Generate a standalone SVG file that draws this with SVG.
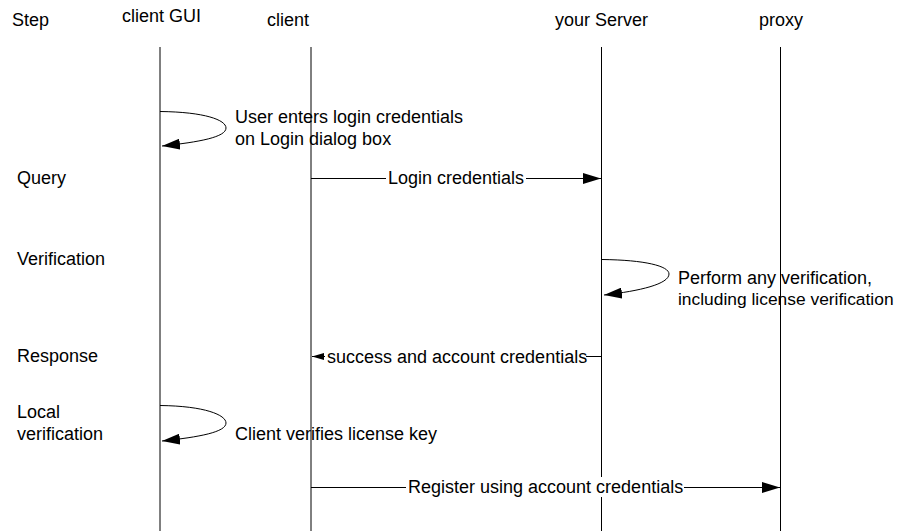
<svg xmlns="http://www.w3.org/2000/svg" width="899" height="531" viewBox="0 0 899 531">
<style>
text{font-family:"Liberation Sans",Arial,sans-serif;font-size:18px;fill:#000}
.life{stroke:#000;stroke-width:1;fill:none}
.msg{stroke:#000;stroke-width:1;fill:none}
.bg{fill:#fff}
</style>
<defs>
<marker id="ah" viewBox="0 0 18 11" refX="18" refY="5.5" markerWidth="18" markerHeight="11" markerUnits="userSpaceOnUse" orient="auto">
<path d="M0,0 L18,5.5 L0,11 Z" fill="#000"/>
</marker>
<marker id="ahs" viewBox="0 0 12 7" refX="12" refY="3.5" markerWidth="12" markerHeight="7" markerUnits="userSpaceOnUse" orient="auto">
<path d="M0,0 L12,3.5 L0,7 Z" fill="#000"/>
</marker>
</defs>
<rect width="899" height="531" fill="#fff"/>
<g id="steps">
<text x="12" y="26">Step</text>
<text x="17" y="184">Query</text>
<text x="17" y="265">Verification</text>
<text x="17" y="362">Response</text>
<text x="17" y="418">Local</text>
<text x="17" y="440">verification</text>
</g>
<g id="clientGUI">
<text x="122" y="22">client GUI</text>
<line class="life" x1="160" y1="47" x2="160" y2="531"/>
</g>
<g id="client">
<text x="267" y="26">client</text>
<line class="life" x1="311" y1="47" x2="311" y2="531"/>
</g>
<g id="server">
<text x="555" y="26">your Server</text>
<line class="life" x1="601.5" y1="47" x2="601.5" y2="531"/>
</g>
<g id="proxy">
<text x="759" y="26">proxy</text>
<line class="life" x1="780.5" y1="47" x2="780.5" y2="531"/>
</g>
<g id="connectors">
<path class="msg" d="M160,111.5 C205,112 226,120 226,128 C226,137 200,142 162,146" marker-end="url(#ah)"/>
<text x="235" y="123">User enters login credentials</text>
<text x="235" y="145">on Login dialog box</text>

<line class="msg" x1="311" y1="178.5" x2="601" y2="178.5" marker-end="url(#ah)"/>
<rect class="bg" x="386" y="168" width="140" height="20"/>
<text x="388" y="184">Login credentials</text>

<path class="msg" d="M602,259.5 C645,260 669,266 669,274 C669,284 640,291 604,295" marker-end="url(#ah)"/>
<text x="678" y="284">Perform any verification,</text>
<text x="678" y="305" style="font-size:17.4px">including license verification</text>

<line class="msg" x1="601" y1="356.5" x2="312" y2="356.5" marker-end="url(#ahs)"/>
<rect class="bg" x="325" y="346" width="261" height="20"/>
<text x="327" y="363">success and account credentials</text>

<path class="msg" d="M160,405.5 C205,406 226,415 226,423 C226,432 200,437 162,441" marker-end="url(#ah)"/>
<text x="235" y="440">Client verifies license key</text>

<line class="msg" x1="311" y1="487.5" x2="780" y2="487.5" marker-end="url(#ah)"/>
<rect class="bg" x="406" y="477" width="278" height="20"/>
<text x="408" y="493">Register using account credentials</text>
</g>
</svg>
